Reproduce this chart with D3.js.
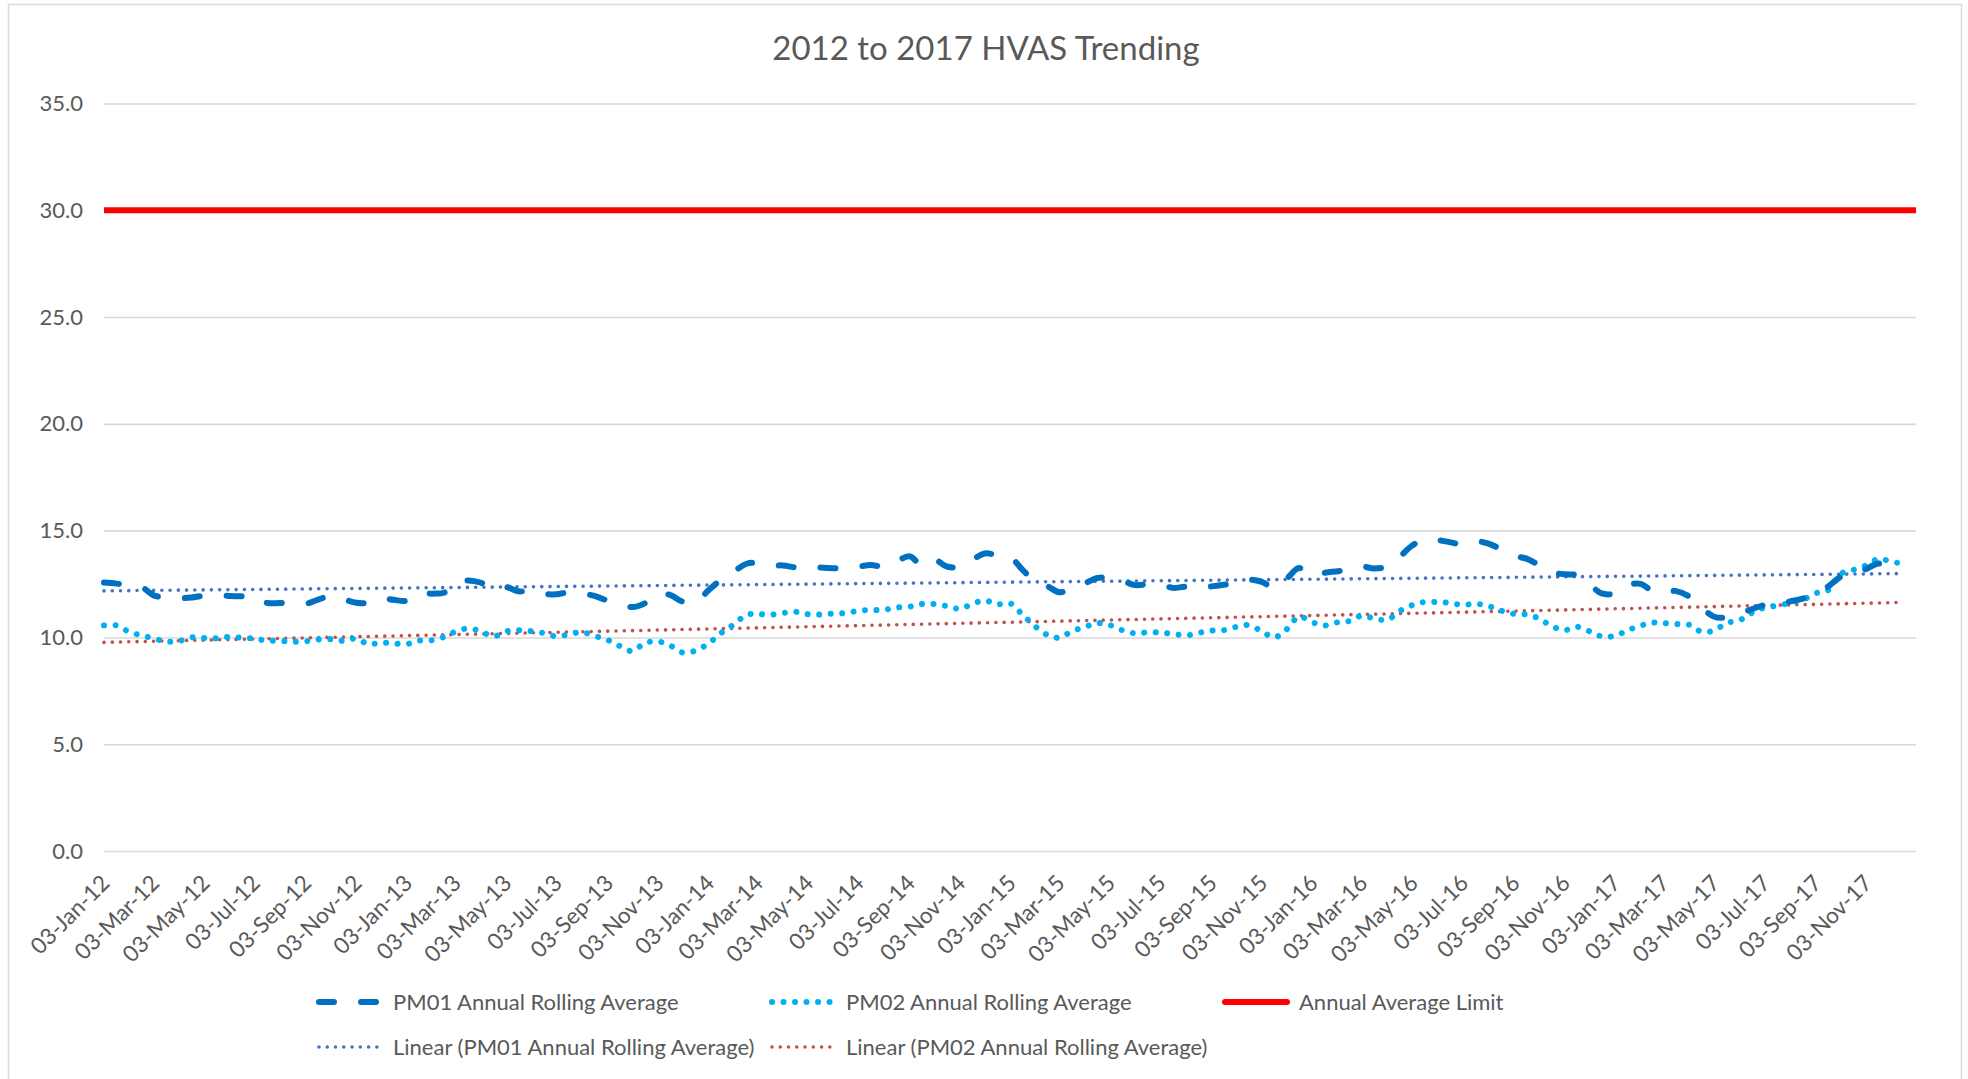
<!DOCTYPE html>
<html><head><meta charset="utf-8">
<script src="https://cdn.jsdelivr.net/npm/d3@7"></script>
<style>body{margin:0;background:#fff}svg{display:block}</style>
</head><body>
<svg id="chart" width="1968" height="1079"></svg>
<script>
// ---------------- data ----------------
const chartTitle = "2012 to 2017 HVAS Trending";
const yTickValues = [0, 5, 10, 15, 20, 25, 30, 35];
const xTickLabels = [
  "03-Jan-12","03-Mar-12","03-May-12","03-Jul-12","03-Sep-12","03-Nov-12",
  "03-Jan-13","03-Mar-13","03-May-13","03-Jul-13","03-Sep-13","03-Nov-13",
  "03-Jan-14","03-Mar-14","03-May-14","03-Jul-14","03-Sep-14","03-Nov-14",
  "03-Jan-15","03-Mar-15","03-May-15","03-Jul-15","03-Sep-15","03-Nov-15",
  "03-Jan-16","03-Mar-16","03-May-16","03-Jul-16","03-Sep-16","03-Nov-16",
  "03-Jan-17","03-Mar-17","03-May-17","03-Jul-17","03-Sep-17","03-Nov-17"
];
// samples taken on the 3rd and 18th of each month from 03-Jan-12
const sampleDays = [3, 18];
const pm01 = [
  12.57,12.52,12.44,12.35,11.97,11.88,11.84,11.87,11.96,11.99,
  11.94,11.93,11.94,11.62,11.61,11.61,11.58,11.77,11.94,11.80,
  11.62,11.62,11.83,11.76,11.72,12.05,12.05,12.11,12.56,12.67,
  12.56,12.27,12.36,12.16,12.19,12.04,12.02,12.11,12.04,11.95,
  11.72,11.58,11.42,11.60,12.05,11.98,11.67,11.64,12.21,12.70,
  13.10,13.45,13.49,13.37,13.37,13.28,13.32,13.27,13.24,13.24,
  13.31,13.39,13.32,13.55,13.80,13.38,13.64,13.32,13.31,13.64,
  13.93,13.85,13.75,13.15,12.60,12.37,12.12,12.27,12.53,12.78,
  12.78,12.66,12.45,12.49,12.49,12.32,12.37,12.29,12.39,12.47,
  12.54,12.70,12.60,12.33,12.75,13.25,12.90,13.03,13.10,13.19,
  13.32,13.23,13.33,13.78,14.31,14.59,14.56,14.45,14.36,14.51,
  14.39,14.13,13.83,13.69,13.39,13.05,12.96,12.91,12.50,12.06,
  12.06,12.44,12.51,12.16,12.15,12.17,11.91,11.39,10.97,10.94,
  11.12,11.33,11.52,11.57,11.69,11.82,12.05,12.39,12.83,12.95,
  13.21,13.46,13.30
];
const pm02 = [
  10.56,10.56,10.25,10.09,9.95,9.81,9.83,10.01,9.97,9.96,
  10.03,9.98,9.94,9.85,9.84,9.80,9.82,9.90,9.92,9.84,
  9.94,9.68,9.76,9.72,9.69,9.85,9.87,10.04,10.27,10.42,
  10.28,10.05,10.28,10.34,10.29,10.20,10.05,10.14,10.24,10.07,
  9.88,9.59,9.36,9.74,9.81,9.61,9.29,9.38,9.72,10.20,
  10.62,11.06,11.10,11.06,11.14,11.20,11.09,11.07,11.12,11.14,
  11.25,11.28,11.29,11.40,11.44,11.56,11.56,11.47,11.34,11.57,
  11.73,11.55,11.59,11.05,10.48,10.09,9.99,10.28,10.49,10.67,
  10.58,10.34,10.19,10.24,10.23,10.17,10.09,10.21,10.32,10.34,
  10.49,10.57,10.29,10.00,10.38,10.97,10.71,10.56,10.71,10.78,
  11.02,10.88,10.83,11.24,11.51,11.66,11.65,11.61,11.52,11.58,
  11.47,11.26,11.10,11.07,10.89,10.54,10.34,10.50,10.29,10.05,
  10.07,10.33,10.55,10.69,10.67,10.63,10.59,10.26,10.33,10.67,
  10.81,11.16,11.40,11.49,11.62,11.76,12.07,12.22,12.98,13.16,
  13.38,13.68,13.55,13.45
];
const limitValue = [30];
const trendPM01 = [12.18, 12.99];   // start, end of linear fit
const trendPM02 = [9.77, 11.64];
const legendNames = [
  "PM01 Annual Rolling Average",
  "PM02 Annual Rolling Average",
  "Annual Average Limit",
  "Linear (PM01 Annual Rolling Average)",
  "Linear (PM02 Annual Rolling Average)"
];

// ---------------- setup ----------------
const plot = {left: 104, right: 1916, top: 103.5, bottom: 851};
const FONT = "Lato, 'Open Sans', sans-serif";
const TEXT = "#595959";
const svg = d3.select("#chart");

const parseTick = d3.timeParse("%d-%b-%y");
const sampleDate = i => new Date(2012, Math.floor(i / sampleDays.length), sampleDays[i % sampleDays.length]);

const x = d3.scaleTime()
  .domain([new Date(2012, 0, 3), new Date(2018, 0, 2)])
  .range([plot.left, plot.right]);
const y = d3.scaleLinear().domain([0, 35]).range([plot.bottom, plot.top]);

// outer chart border
svg.append("rect").attr("x", 8.5).attr("y", 4.5).attr("width", 1953).attr("height", 1100)
  .attr("fill", "#fff").attr("stroke", "#d9d9d9").attr("stroke-width", 1.5);

// title
svg.append("text").attr("x", 986).attr("y", 60).attr("text-anchor", "middle")
  .attr("font-family", FONT).attr("font-size", 33).attr("fill", TEXT).text(chartTitle);

// gridlines + y axis
const yAxis = d3.axisLeft(y).tickValues(yTickValues).tickFormat(d3.format(".1f"))
  .tickSize(-(plot.right - plot.left)).tickPadding(21);
const gy = svg.append("g").attr("transform", `translate(${plot.left},0)`).call(yAxis);
gy.select(".domain").remove();
gy.selectAll(".tick line").attr("stroke", "#d9d9d9").attr("stroke-width", 1.6);
gy.selectAll(".tick text").attr("font-family", FONT).attr("font-size", 22).attr("fill", TEXT);

// x axis labels
const xAxis = d3.axisBottom(x).tickValues(xTickLabels.map(parseTick))
  .tickFormat(d3.timeFormat("%d-%b-%y")).tickSize(0).tickPadding(0);
const gx = svg.append("g").attr("transform", `translate(0,${plot.bottom})`).call(xAxis);
gx.select(".domain").remove();
gx.selectAll(".tick text")
  .attr("font-family", FONT).attr("font-size", 22.5).attr("fill", TEXT)
  .attr("text-anchor", "end").attr("dy", "0.35em").attr("y", 0)
  .attr("transform", "translate(1,28) rotate(-45)");

// ---------------- series ----------------
const line = d3.line().x(d => x(d.date)).y(d => y(d.v)).curve(d3.curveCatmullRom.alpha(0.5));
const straight = d3.line().x(d => x(d.date)).y(d => y(d.v));

const styles = [
  {color: "#0070c0", width: 6, dash: "15 27", cap: "round"},
  {color: "#00b0f0", width: 6, dash: "0.01 11.5", cap: "round"},
  {color: "#ff0000", width: 6, dash: null, cap: "butt"},
  {color: "#4472c4", width: 3.6, dash: "0.01 8.25", cap: "round"},
  {color: "#c0504d", width: 3.6, dash: "0.01 8.25", cap: "round"}
];
function styled(sel, s) {
  sel.attr("fill", "none").attr("stroke", s.color).attr("stroke-width", s.width)
    .attr("stroke-linecap", s.cap);
  if (s.dash) sel.attr("stroke-dasharray", s.dash);
  return sel;
}

const firstDate = sampleDate(0);
const lastDate = sampleDate(pm02.length - 1);

// limit
styled(svg.append("path"), styles[2])
  .attr("d", straight([{date: x.domain()[0], v: limitValue[0]}, {date: x.domain()[1], v: limitValue[0]}]));

// trend lines
styled(svg.append("path"), styles[4])
  .attr("d", straight([{date: firstDate, v: trendPM02[0]}, {date: lastDate, v: trendPM02[1]}]));
styled(svg.append("path"), styles[3])
  .attr("d", straight([{date: firstDate, v: trendPM01[0]}, {date: lastDate, v: trendPM01[1]}]));

// PM02 then PM01
styled(svg.append("path"), styles[1])
  .attr("d", line(pm02.map((v, i) => ({date: sampleDate(i), v}))));
styled(svg.append("path"), styles[0])
  .attr("d", line(pm01.map((v, i) => ({date: sampleDate(i), v}))));

// ---------------- legend ----------------
const legendPos = [
  {tx: 393, ty: 1002}, {tx: 846, ty: 1002}, {tx: 1299, ty: 1002},
  {tx: 393, ty: 1047}, {tx: 846, ty: 1047}
];
legendNames.forEach((name, i) => {
  const p = legendPos[i], s = styles[i];
  const g = svg.append("g");
  styled(g.append("path"), s)
    .attr("stroke-linecap", "round")
    .attr("d", `M${p.tx - 74},${p.ty}H${p.tx - 12}`);
  g.append("text").attr("x", p.tx).attr("y", p.ty).attr("dy", "0.35em")
    .attr("font-family", FONT).attr("font-size", 22).attr("fill", TEXT).text(name);
});
</script>
</body></html>
